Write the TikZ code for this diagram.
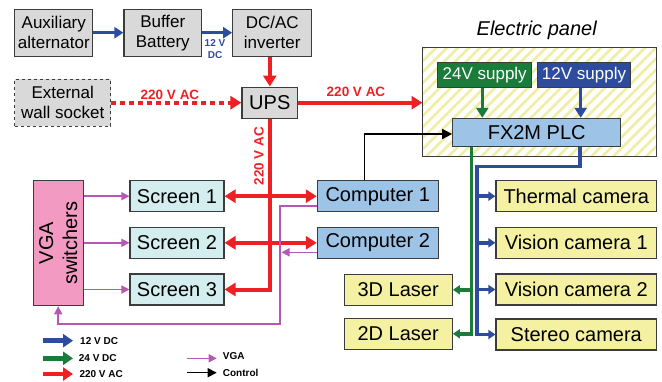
\documentclass[tikz,border=0pt]{standalone}
\usepackage{fontspec}
\setmainfont{Liberation Sans}
\usetikzlibrary{arrows.meta,calc}
\definecolor{rd}{RGB}{237,32,36}
\definecolor{bl}{RGB}{46,76,158}
\definecolor{gr}{RGB}{26,124,58}
\definecolor{pk}{RGB}{180,88,180}
\definecolor{pkfill}{RGB}{242,154,194}
\definecolor{grayfill}{RGB}{217,217,217}
\definecolor{scrfill}{RGB}{212,238,240}
\definecolor{compfill}{RGB}{157,195,230}
\definecolor{yel}{RGB}{245,241,162}
\definecolor{stripe}{RGB}{240,237,165}
\definecolor{bord}{RGB}{60,60,60}
\begin{document}
\begin{tikzpicture}[x=1pt,y=-1pt,
  box/.style={draw=bord, line width=1.1pt, inner sep=0pt, align=center, font=\fontsize{20}{21}\selectfont},
  topbox/.style={box, fill=grayfill, minimum height=46.7pt, font=\fontsize{17}{20}\selectfont},
  redline/.style={draw=rd, line width=4pt},
  redtip/.style={-{Triangle[length=11pt,width=13pt]}},
  blueline/.style={draw=bl, line width=3.5pt},
  greenline/.style={draw=gr, line width=3.5pt},
  smalltip/.style={-{Triangle[length=7pt,width=9pt]}},
  midtip/.style={-{Triangle[length=10pt,width=12pt]}},
  pinkline/.style={draw=pk, line width=1.6pt, -{Triangle[length=8pt,width=8pt]}},
  lbl/.style={font=\fontsize{13.5}{14}\selectfont\bfseries, text=rd, inner sep=0pt},
  legtext/.style={font=\fontsize{10}{11}\selectfont\bfseries, inner sep=0pt, anchor=west},
  legarrow/.style={line width=4.5pt, -{Triangle[length=10pt,width=13pt]}}
]
\useasboundingbox (0,0) rectangle (662,381);

% top row
\node[topbox, minimum width=78pt] (aux) at (53.8,32.7) {Auxiliary\\alternator};
\node[topbox, minimum width=77.7pt] (buf) at (162.8,32.7) {Buffer\\Battery};
\node[topbox, minimum width=79pt] (inv) at (272.2,32.7) {DC/AC\\inverter};
\node[topbox, minimum width=96pt, dashed] (ext) at (62.7,102.7) {External\\wall socket};
\node[box, fill=grayfill, minimum width=55.7pt, minimum height=31.3pt] (ups) at (269.8,102.7) {UPS};

% electric panel
\node[minimum width=234pt, minimum height=109pt, inner sep=0pt] (panel) at (539.7,102.2) {};
\begin{scope}
  \clip (panel.south west) rectangle (panel.north east);
  \foreach \i in {-12,...,24} \draw[stripe, line width=2.6pt] (422.7+\i*11,160) -- ++(120,-120);
\end{scope}
\draw[bord, line width=1.1pt] (panel.south west) rectangle (panel.north east);
\node[font=\fontsize{20}{21}\selectfont\itshape, inner sep=0pt] (ptitle) at (536.7,30.7) {Electric panel};
\node[box, fill=gr, text=white, minimum width=94pt, minimum height=25.3pt, font=\fontsize{17}{18}\selectfont] (s24) at (484.7,74.7) {24V supply};
\node[box, fill=bl, text=white, minimum width=93.3pt, minimum height=25.3pt, font=\fontsize{17}{18}\selectfont] (s12) at (584,74.7) {12V supply};
\node[box, fill=compfill, minimum width=168pt, minimum height=27.7pt] (plc) at (536.7,132.2) {FX2M PLC};

% computers
\node[box, fill=compfill, minimum width=121pt, minimum height=31pt] (comp1) at (377.8,196.2) {Computer 1};
\node[box, fill=compfill, minimum width=121pt, minimum height=31pt] (comp2) at (377.8,242.8) {Computer 2};

% screens and vga
\node[box, fill=pkfill, rotate=90, font=\fontsize{20}{24}\selectfont, minimum width=125pt, minimum height=50.3pt] (vga) at (58.2,243.2) {VGA\\switchers};
\node[box, fill=scrfill, minimum width=94pt, minimum height=31pt] (scr1) at (177,196.2) {Screen 1};
\node[box, fill=scrfill, minimum width=94pt, minimum height=31pt] (scr2) at (177,242.8) {Screen 2};
\node[box, fill=scrfill, minimum width=94pt, minimum height=31pt] (scr3) at (177,289.5) {Screen 3};

% cameras and lasers
\node[box, fill=yel, minimum width=160.7pt, minimum height=31pt] (therm) at (576.3,196.2) {Thermal camera};
\node[box, fill=yel, minimum width=160.7pt, minimum height=31pt] (vis1) at (576.3,242.8) {Vision camera 1};
\node[box, fill=yel, minimum width=160.7pt, minimum height=31pt] (vis2) at (576.3,289.5) {Vision camera 2};
\node[box, fill=yel, minimum width=160.7pt, minimum height=31pt] (stereo) at (576.3,334.5) {Stereo camera};
\node[box, fill=yel, minimum width=108.3pt, minimum height=31.5pt] (las3) at (398.2,289.8) {3D Laser};
\node[box, fill=yel, minimum width=108.3pt, minimum height=31pt] (las2) at (398.2,333.8) {2D Laser};

% power connectors top
\draw[blueline, -{Triangle[length=9pt,width=11pt]}] (aux) -- (buf);
\draw[blueline, -{Triangle[length=9pt,width=11pt]}] (buf) -- (inv);
\node[font=\fontsize{10}{11.5}\selectfont\bfseries, text=bl, align=center, inner sep=0pt] (lbl12) at (215,49) {12 V\\DC};
\draw[redline, redtip] (ups.north |- inv.south) -- (ups.north);
\draw[redline, redtip, dash pattern=on 5pt off 4pt] (ext) -- (ups);
\node[lbl] (l220a) at (170,95) {220 V AC};
\draw[redline, redtip] (ups.east) -- (ups.east -| panel.west);
\node[lbl] (l220b) at (356,92) {220 V AC};

% red bus to screens and computers
\draw[redline, redtip] (ups.south) |- (scr3.east);
\node[lbl, rotate=90] (l220c) at (259,156) {220 V AC};
\draw[redline, {Triangle[length=11pt,width=13pt]}-{Triangle[length=11pt,width=13pt]}] (scr1) -- (comp1);
\draw[redline, {Triangle[length=11pt,width=13pt]}-{Triangle[length=11pt,width=13pt]}] (scr2) -- (comp2);

% supplies to PLC
\draw[greenline, midtip] ([xshift=-2.4pt]s24.south) -- ([xshift=-2.4pt]s24.south |- plc.north);
\draw[blueline, midtip] ([xshift=-3.3pt]s12.south) -- ([xshift=-3.3pt]s12.south |- plc.north);

% control
\draw[black, line width=1.5pt, -{Triangle[length=10pt,width=10pt]}] ([xshift=-13.5pt]comp1.north) |- ($(plc.west)+(0,1.8)$);

% PLC distribution
\coordinate (gt) at ($(plc.south west)+(19.3,0)$);
\coordinate (bt) at ($(plc.south west)+(128,0)$);
\coordinate (bj) at (477,166.7);
\draw[greenline, smalltip] (gt) |- (las2.east);
\draw[greenline, smalltip] (gt |- las3.east) -- (las3.east);
\draw[blueline, smalltip] (bt) |- (bj) |- (stereo.west);
\draw[blueline, smalltip] (bj |- therm.west) -- (therm.west);
\draw[blueline, smalltip] (bj |- vis1.west) -- (vis1.west);
\draw[blueline, smalltip] (bj |- vis2.west) -- (vis2.west);

% VGA
\coordinate (pv) at (280,324);
\draw[pinkline] ($(comp1.west)+(0,9.8)$) -| (pv) -| (vga.west);
\draw[pinkline] ($(comp2.west)+(0,9.5)$) -- ($(pv |- comp2.west)+(1.5,9.5)$);
\draw[pinkline] (vga.south |- scr1.west) -- (scr1.west);
\draw[pinkline] (vga.south |- scr2.west) -- (scr2.west);
\draw[pinkline] (vga.south |- scr3.west) -- (scr3.west);

% legend
\node[legtext] (lg12) at (80,340.7) {12 V DC};
\node[legtext] (lg24) at (78.7,358.3) {24 V DC};
\node[legtext] (lg220) at (79.3,374) {220 V AC};
\node[legtext] (lgvga) at (222.7,356.5) {VGA};
\node[legtext] (lgctl) at (222.7,372.5) {Control};
\draw[legarrow, bl] ($(lg12.west)+(-37,0)$) -- ($(lg12.west)+(-7,0)$);
\draw[legarrow, gr] ($(lg24.west)+(-35.7,0)$) -- ($(lg24.west)+(-5.7,0)$);
\draw[legarrow, rd] ($(lg220.west)+(-36.3,0)$) -- ($(lg220.west)+(-6.3,0)$);
\draw[pinkline] ($(lgvga.west)+(-36,1.8)$) -- ($(lgvga.west)+(-6,1.8)$);
\draw[black, line width=1.5pt, -{Triangle[length=9pt,width=9pt]}] ($(lgctl.west)+(-36,0.2)$) -- ($(lgctl.west)+(-6,0.2)$);
\end{tikzpicture}
\end{document}
